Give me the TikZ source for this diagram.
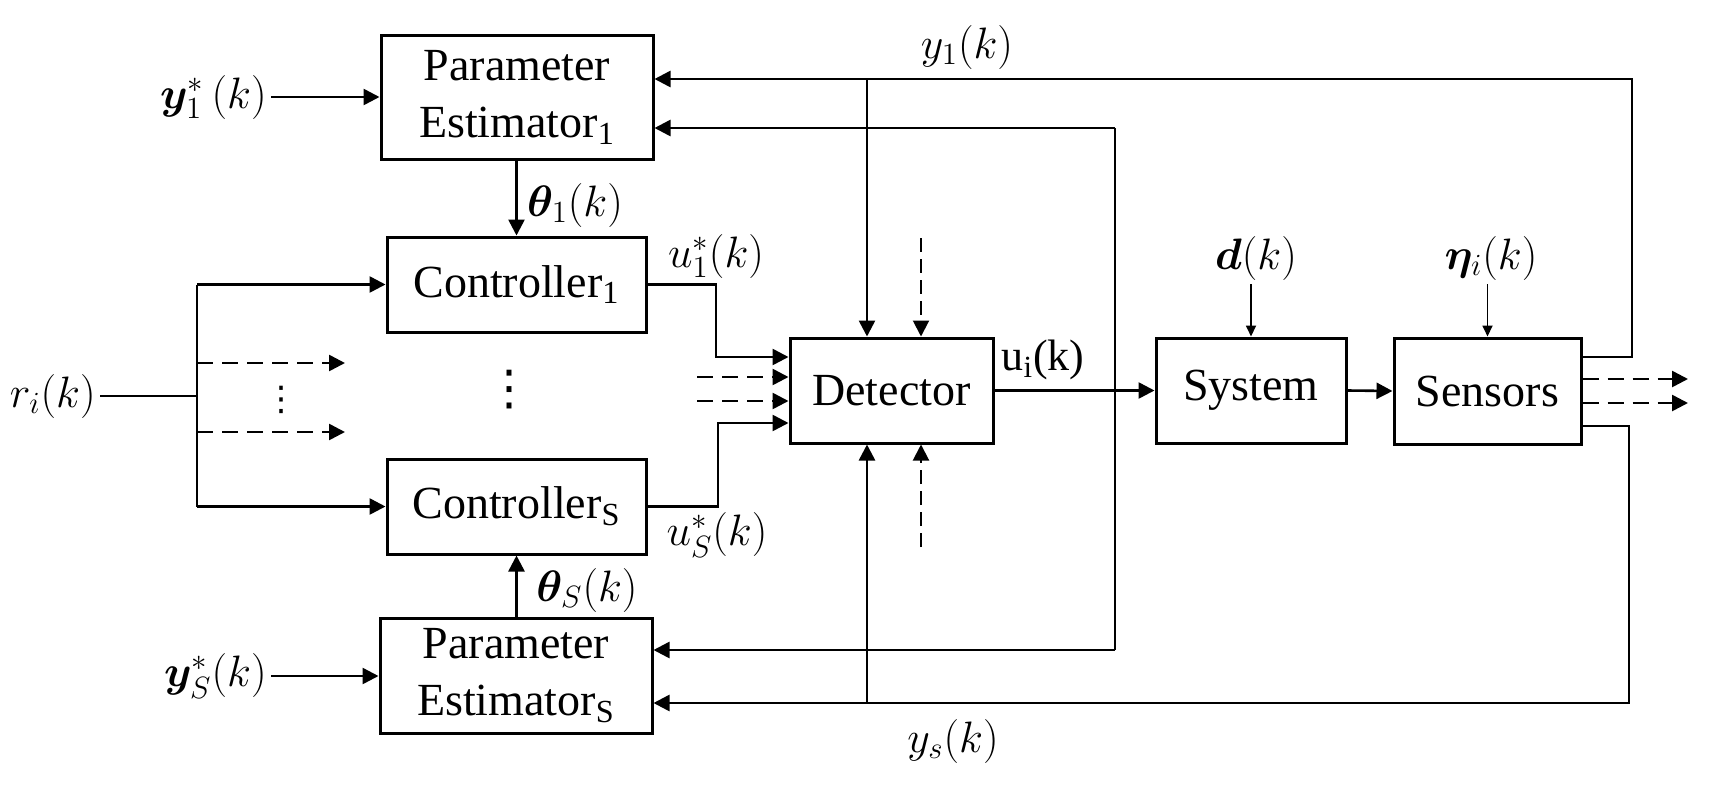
\RequirePackage{fix-cm}
\documentclass[tikz,border=0pt]{standalone}
\usepackage{amsmath}
\usepackage{bm}
\usepackage{fontspec}
\setmainfont{Liberation Serif}
\newfontfamily\dejavu{DejaVu Sans}
\usetikzlibrary{arrows.meta}
\newcommand\boxfont{\fontsize{23}{28.5}\selectfont}
\newcommand\lblfont{\fontsize{22}{26}\selectfont}
\begin{document}
\begin{tikzpicture}[x=0.5pt,y=-0.5pt,
  box/.style={draw,line width=1.5pt,align=center,inner sep=0pt,font=\boxfont},
  lbl/.style={inner sep=2pt,font=\lblfont},
  conn/.style={line width=1.3pt},
  arr/.style={conn,-{Triangle[length=8pt,width=8pt]}},
  sarr/.style={line width=0.9pt,-{Triangle[length=5.5pt,width=5pt]}},
  darr/.style={arr,dash pattern=on 8pt off 4.5pt},
  dvarr/.style={arr,line width=1pt,dash pattern=on 7pt off 3.5pt}]
\useasboundingbox (0,0) rectangle (1714,788);

% blocks
\node[box,minimum width=136pt,minimum height=62pt] (PE1) at (517,97) {Parameter\\Estimator$_{\text{1}}$};
\node[box,minimum width=129.5pt,minimum height=47.5pt] (C1) at (516.5,284.5) {Controller$_{\text{1}}$};
\node[box,minimum width=129.5pt,minimum height=47.5pt] (CS) at (516.5,506.5) {Controller$_{\text{S}}$};
\node[box,minimum width=136pt,minimum height=57.5pt] (PES) at (516,675.5) {Parameter\\Estimator$_{\text{S}}$};
\node[box,minimum width=101.5pt,minimum height=52.5pt] (Det) at (891.5,390.5) {Detector};
\node[box,minimum width=95pt,minimum height=52.5pt] (Sys) at (1251,390.5) {System};
\node[box,minimum width=93.5pt,minimum height=53pt] (Sen) at (1487.5,391) {Sensors};

% labels
\node[lbl,anchor=east] (y1s) at (271,97) {$\bm{y}_1^{*}\,(k)$};
\node[lbl,anchor=east] (yss) at (271,676) {$\bm{y}_S^{*}(k)$};
\node[lbl] (th1) at (575,205) {$\bm{\theta}_1(k)$};
\node[lbl] (thS) at (587,590) {$\bm{\theta}_S(k)$};
\node[lbl,anchor=east] (ri) at (100,396) {$r_i(k)$};
\node[lbl] (u1) at (716,256) {$u_1^*(k)$};
\node[lbl] (uS) at (717,535) {$u_S^*(k)$};
\node[lbl] (ui) at (1043,360) {u$_{\text{i}}$(k)};
\node[lbl] (y1) at (967,47) {$y_1(k)$};
\node[lbl] (ys) at (953,741) {$y_s(k)$};
\node[lbl] (dk) at (1256,258) {$\bm{d}(k)$};
\node[lbl] (eta) at (1491,258) {$\bm{\eta}_i(k)$};
\node[inner sep=0pt,font=\dejavu\fontsize{17}{17}\selectfont] (vd1) at (281,400) {⋮};
\node[inner sep=0pt,font=\dejavu\fontsize{24}{24}\selectfont] (vd2) at (509,390) {⋮};

% coordinates
\coordinate (br) at (197,396);
\coordinate (brt) at (197,284.5);
\coordinate (brb) at (197,506.5);
\coordinate (dl1) at (345,363);
\coordinate (dl2) at (345,432);
\coordinate (u1c) at (716,284.5);
\coordinate (uSc) at (718,506.5);
\coordinate (dd1) at (697,377);
\coordinate (dd2) at (697,401);
\coordinate (topc) at (921,238);
\coordinate (botc) at (921,547);
\coordinate (tr) at (1632,79);
\coordinate (brr) at (1629,703);
\coordinate (so1) at (1688,379);
\coordinate (so2) at (1688,403);

% parameter estimator inputs
\draw[arr] (y1s.east) -- (PE1.west |- y1s.east);
\draw[arr] (yss.east) -- (PES.west |- yss.east);
\draw[arr] (PE1.south -| C1.north) -- (C1.north);
\draw[arr] (PES.north -| CS.south) -- (CS.south);

% reference branch
\draw[conn] (ri.east) -- (br);
\draw[conn] (brt) -- (brb);
\draw[arr] (brt) -- (C1.west);
\draw[arr] (brb) -- (CS.west);
\draw[darr] (brt |- dl1) -- (dl1);
\draw[darr] (brt |- dl2) -- (dl2);

% controllers to detector
\draw[arr] (C1.east) -- (u1c) |- (Det.west |- 0,357);
\draw[arr] (CS.east) -- (uSc) |- (Det.west |- 0,423);
\draw[darr] (dd1) -- (Det.west |- dd1);
\draw[darr] (dd2) -- (Det.west |- dd2);
\draw[dvarr] (topc) -- (Det.north -| topc);
\draw[dvarr] (botc) -- (Det.south -| botc);

% detector to system to sensors
\draw[arr] (Det.east) -- (Sys.west);
\draw[arr] (Sys.east) -- (Sen.west);
\draw[sarr] (Sys.north |- dk.south) -- (Sys.north);
\draw[sarr] (Sen.north |- eta.south) -- (Sen.north);

% sensor feedback y1
\draw[arr] (Sen.east |- 0,357) -| (tr) -- (PE1.east |- tr);
\draw[arr] (867,79) -- (Det.north -| 867,0);
% sensor feedback ys
\draw[arr] (Sen.east |- 0,426) -| (brr) -- (PES.east |- brr);
\draw[arr] (867,703) -- (Det.south -| 867,0);
% detector output feedback
\draw[conn] (1115,650) -- (1115,128);
\draw[arr] (1115,128) -- (PE1.east |- 0,128);
\draw[arr] (1115,650) -- (PES.east |- 0,650);

% sensor dashed outputs
\draw[darr] (Sen.east |- so1) -- (so1);
\draw[darr] (Sen.east |- so2) -- (so2);
\end{tikzpicture}
\end{document}
